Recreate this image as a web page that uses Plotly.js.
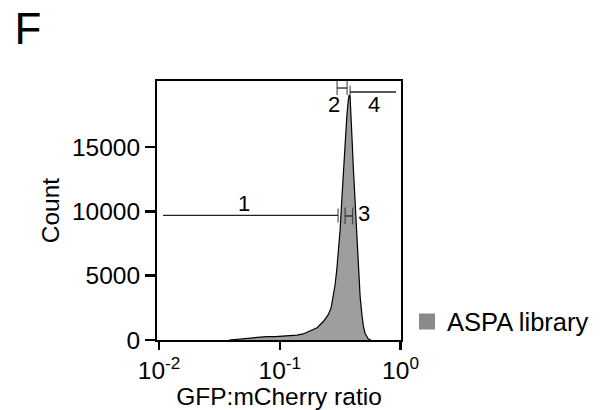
<!DOCTYPE html>
<html>
<head>
<meta charset="utf-8">
<script src="https://cdn.plot.ly/plotly-3.0.1.min.js"></script>
<style>html,body{margin:0;padding:0;background:#fff;}#chart{width:607px;height:410px;}</style>
</head>
<body>
<div id="chart"></div>
<script>
// Histogram of GFP:mCherry ratio
const ratio = [0.0380, 0.0420, 0.0469, 0.0567, 0.0687, 0.0785, 0.0914, 0.1065, 0.1217, 0.1391,
  0.1560, 0.1782, 0.2037, 0.2284, 0.2513, 0.2661, 0.2780, 0.2872, 0.2966, 0.3059,
  0.3160, 0.3264, 0.3365, 0.3475, 0.3590, 0.3680, 0.3751, 0.3823, 0.3897, 0.3972,
  0.4073, 0.4206, 0.4344, 0.4479, 0.4627, 0.4779, 0.4927, 0.5089, 0.5257, 0.5421, 0.5706];
const count = [0, 30, 70, 150, 230, 270, 255, 280, 300, 380,
  470, 680, 950, 1420, 1950, 2500, 3380, 4300, 5470, 6870,
  8580, 10909, 13238, 15567, 17376, 18517, 19061, 18906, 17663, 15567,
  13238, 10521, 8059, 5629, 3401, 2057, 1071, 505, 233, 78, 0];

// Gates
const gateNames = ['1', '2', '3', '4'];
const gateLo = [0.01079, 0.2983, 0.3475, 0.3823];
const gateHi = [0.3041, 0.3611, 0.4010, 0.9194];
const gateY = [9689, 19604, 9650, 19294];
const gateLabelX = [0.0506, 0.2791, 0.4992, 0.5984];
const gateLabelY = [10598, 18284, 9821, 18284];

const seriesName = 'ASPA library';
const xTickVals = [0.01, 0.1, 1];
const xTickText = ['10<sup>-2</sup>', '10<sup>-1</sup>', '10<sup>0</sup>'];
const yTickVals = [0, 5000, 10000, 15000];
const yTickText = ['0', '5000', '10000', '15000'];

const FONT = 'Liberation Sans, Arial, sans-serif';
const gateTickSizes = [[0, 10], [10, 10], [12, 12], [9, 0]];

const traces = [{
  type: 'scatter', mode: 'lines', x: ratio, y: count,
  fill: 'tozeroy', fillcolor: '#9e9e9e',
  line: {color: '#000', width: 1.2}, showlegend: false, hoverinfo: 'skip'
}];
gateNames.forEach((g, i) => {
  traces.push({
    type: 'scatter', mode: 'lines+markers',
    x: [gateLo[i], gateHi[i]], y: [gateY[i], gateY[i]],
    line: {color: '#222', width: 1.3},
    marker: {symbol: 'line-ns-open', size: gateTickSizes[i], color: '#222', line: {color: '#222', width: 1.3}},
    showlegend: false, hoverinfo: 'skip'
  });
});
traces.push({
  type: 'scatter', mode: 'markers', x: [null], y: [null], name: seriesName,
  marker: {symbol: 'square', size: 16, color: '#8a8a8a'}, showlegend: true
});

const annotations = gateNames.map((g, i) => ({
  text: g, x: Math.log10(gateLabelX[i]), y: gateLabelY[i], xref: 'x', yref: 'y',
  showarrow: false, xanchor: 'center', yanchor: 'middle',
  font: {family: FONT, size: 22, color: '#000'}
}));

const layout = {
  width: 607, height: 410,
  margin: {l: 157, r: 206, t: 81, b: 70, pad: 0},
  paper_bgcolor: '#fff', plot_bgcolor: '#fff',
  font: {family: FONT, size: 24, color: '#000'},
  title: {text: 'F', x: 0.046, xanchor: 'center', y: 0.93, yanchor: 'middle', yref: 'container', xref: 'container',
    font: {family: FONT, size: 44, color: '#000'}},
  xaxis: {
    type: 'log', range: [-2.017, 0.004], tickmode: 'array', tickvals: xTickVals, ticktext: xTickText,
    showgrid: false, zeroline: false, showline: true, mirror: true, linecolor: '#000', linewidth: 2,
    ticks: 'outside', ticklen: 8, tickwidth: 2.5, tickcolor: '#000',
    tickfont: {family: FONT, size: 24.5},
    title: {text: 'GFP:mCherry ratio', standoff: 2, font: {family: FONT, size: 24.5}},
    automargin: false
  },
  yaxis: {
    range: [0, 20150], tickmode: 'array', tickvals: yTickVals, ticktext: yTickText,
    showgrid: false, zeroline: false, showline: true, mirror: true, linecolor: '#000', linewidth: 2,
    ticks: 'outside', ticklen: 10, tickwidth: 2.5, tickcolor: '#000',
    tickfont: {family: FONT, size: 24.5},
    title: {text: 'Count', standoff: 5, font: {family: FONT, size: 24.5}},
    automargin: false
  },
  showlegend: true,
  legend: {x: 1.0246, xanchor: 'left', y: 0.07, yanchor: 'middle', bgcolor: 'rgba(0,0,0,0)',
    font: {family: FONT, size: 25.5, color: '#000'}, itemsizing: 'trace'},
  annotations: annotations
};

Plotly.newPlot('chart', traces, layout, {staticPlot: true, displayModeBar: false});
</script>
</body>
</html>
